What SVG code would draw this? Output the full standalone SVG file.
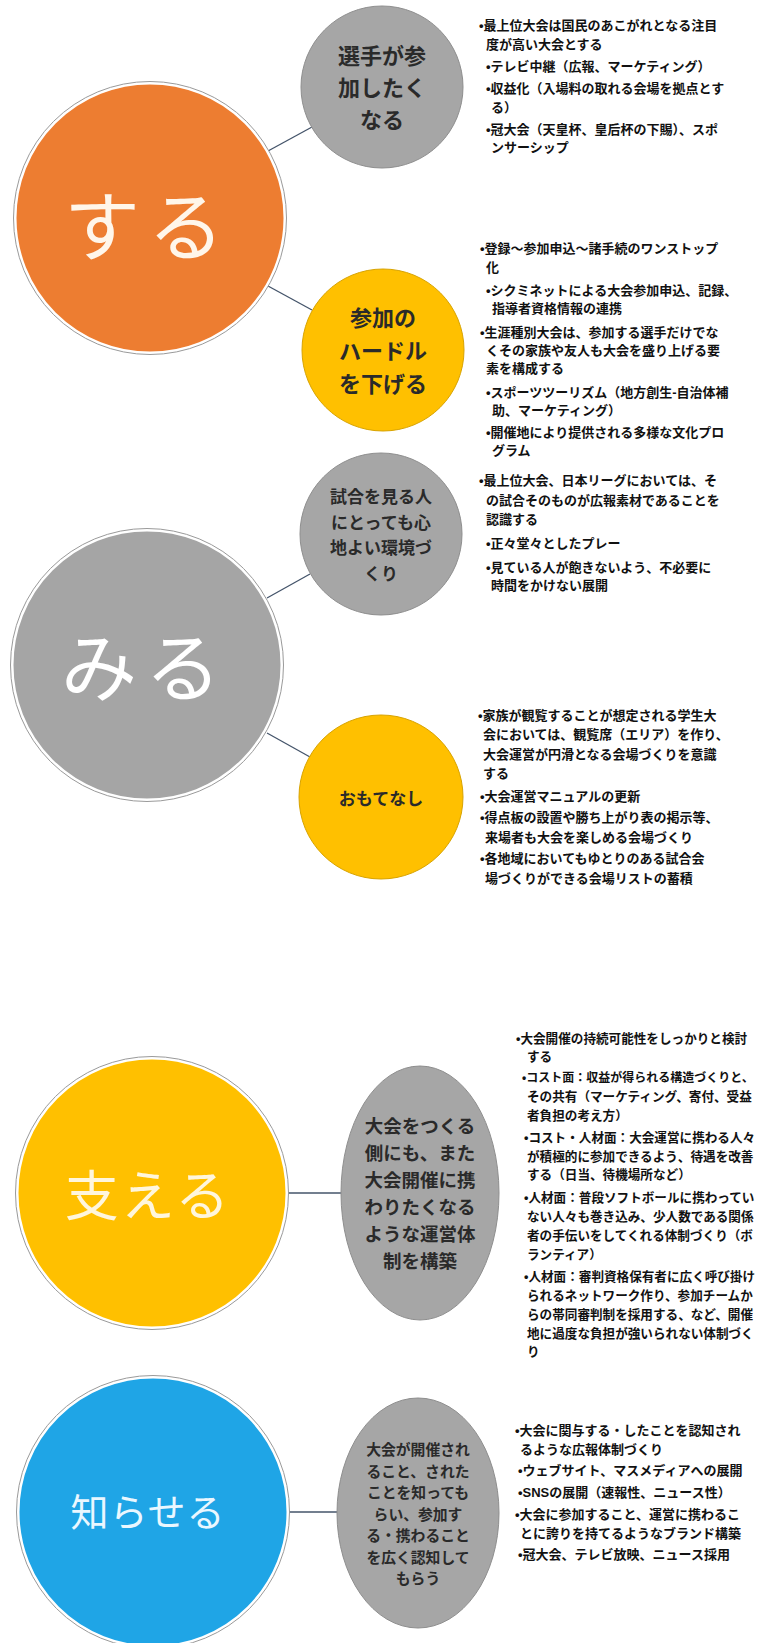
<svg xmlns="http://www.w3.org/2000/svg" width="759" height="1643" viewBox="0 0 759 1643">
<style>
.t{font-family:"Liberation Sans","Noto Sans CJK JP",sans-serif;font-weight:700;font-size:13px;fill:#111;dominant-baseline:central}
.t3{font-size:12.6px}
.t4{font-size:12px}
.lbl{font-family:"Noto Sans CJK JP",sans-serif;font-weight:700;fill:#2a2a2a;text-anchor:middle;dominant-baseline:central}
.big{font-family:"Noto Sans CJK JP",sans-serif;font-weight:400;text-anchor:middle;dominant-baseline:central}
.conn{stroke:#44546A;stroke-width:1.3;fill:none}
.ring{fill:none;stroke:#9a9a9a;stroke-width:1}
.bigc{stroke:#ffffff;stroke-width:3}
.gs{fill:#A6A6A6;stroke:#8e8e8e;stroke-width:1}
.ys{fill:#FFC000;stroke:#d8a300;stroke-width:1}
</style>
<rect width="759" height="1643" fill="#ffffff"/>

<g id="connectors">
<line class="conn" x1="268" y1="151" x2="312" y2="127"/>
<line class="conn" x1="268" y1="286" x2="312" y2="310"/>
<line class="conn" x1="267" y1="598" x2="310" y2="574"/>
<line class="conn" x1="267" y1="733" x2="310" y2="757"/>
<line class="conn" x1="287" y1="1193" x2="341" y2="1193"/>
<line class="conn" x1="288" y1="1512" x2="337" y2="1512"/>
</g>

<g id="node-suru">
<circle cx="150" cy="218" r="135" fill="#ED7D31" class="bigc"/>
<circle cx="150" cy="218" r="136.5" class="ring"/>
<text class="big" x="148" y="222" font-size="76" letter-spacing="8" fill="#fff6ea">する</text>
</g>
<g id="node-senshu">
<circle cx="382" cy="87" r="81" class="gs"/>
<text class="lbl" font-size="22"><tspan x="382" y="54">選手が参</tspan><tspan x="382" y="86">加したく</tspan><tspan x="382" y="118">なる</tspan></text>
</g>
<g id="node-hurdle">
<circle cx="383" cy="350" r="81" class="ys"/>
<text class="lbl" font-size="22"><tspan x="383" y="316">参加の</tspan><tspan x="383" y="349">ハードル</tspan><tspan x="383" y="382">を下げる</tspan></text>
</g>
<g id="text-senshu">
<text class="t" x="479" y="25">•最上位大会は国民のあこがれとなる注目</text>
<text class="t" x="486" y="44">度が高い大会とする</text>
<text class="t" x="486" y="66">•テレビ中継（広報、マーケティング）</text>
<text class="t" x="486" y="88">•収益化（入場料の取れる会場を拠点とす</text>
<text class="t" x="491" y="107">る）</text>
<text class="t" x="486" y="129">•冠大会（天皇杯、皇后杯の下賜）、スポ</text>
<text class="t" x="491" y="147">ンサーシップ</text>
</g>
<g id="text-hurdle">
<text class="t" x="480" y="248">•登録～参加申込～諸手続のワンストップ</text>
<text class="t" x="486" y="267">化</text>
<text class="t" x="486" y="290">•シクミネットによる大会参加申込、記録、</text>
<text class="t" x="492" y="308">指導者資格情報の連携</text>
<text class="t" x="480" y="332">•生涯種別大会は、参加する選手だけでな</text>
<text class="t" x="486" y="350">くその家族や友人も大会を盛り上げる要</text>
<text class="t" x="486" y="368">素を構成する</text>
<text class="t" x="486" y="392">•スポーツツーリズム（地方創生-自治体補</text>
<text class="t" x="492" y="410">助、マーケティング）</text>
<text class="t" x="486" y="432">•開催地により提供される多様な文化プロ</text>
<text class="t" x="492" y="450">グラム</text>
</g>

<g id="node-miru">
<circle cx="147" cy="665" r="135" fill="#A5A5A5" class="bigc"/>
<circle cx="147" cy="665" r="136.5" class="ring"/>
<text class="big" x="145" y="663" font-size="76" letter-spacing="8" fill="#ffffff">みる</text>
</g>
<g id="node-kankyo">
<circle cx="381" cy="534" r="81" class="gs"/>
<text class="lbl" font-size="17"><tspan x="381" y="495">試合を見る人</tspan><tspan x="381" y="521">にとっても心</tspan><tspan x="381" y="546">地よい環境づ</tspan><tspan x="381" y="572">くり</tspan></text>
</g>
<g id="node-omotenashi">
<circle cx="381" cy="797" r="82" class="ys"/>
<text class="lbl" font-size="17" x="381" y="797">おもてなし</text>
</g>
<g id="text-kankyo">
<text class="t" x="479" y="480">•最上位大会、日本リーグにおいては、そ</text>
<text class="t" x="486" y="500">の試合そのものが広報素材であることを</text>
<text class="t" x="486" y="519">認識する</text>
<text class="t" x="486" y="543">•正々堂々としたプレー</text>
<text class="t" x="486" y="567">•見ている人が飽きないよう、不必要に</text>
<text class="t" x="491" y="585">時間をかけない展開</text>
</g>
<g id="text-omotenashi">
<text class="t" x="478" y="715">•家族が観覧することが想定される学生大</text>
<text class="t" x="483" y="734">会においては、観覧席（エリア）を作り、</text>
<text class="t" x="483" y="754">大会運営が円滑となる会場づくりを意識</text>
<text class="t" x="483" y="773">する</text>
<text class="t" x="480" y="796">•大会運営マニュアルの更新</text>
<text class="t" x="480" y="817">•得点板の設置や勝ち上がり表の掲示等、</text>
<text class="t" x="485" y="837">来場者も大会を楽しめる会場づくり</text>
<text class="t" x="480" y="858">•各地域においてもゆとりのある試合会</text>
<text class="t" x="485" y="878">場づくりができる会場リストの蓄積</text>
</g>

<g id="node-sasaeru">
<circle cx="152" cy="1193" r="135" fill="#FFC000" class="bigc"/>
<circle cx="152" cy="1193" r="136.5" class="ring"/>
<text class="big" x="148" y="1192" font-size="54" letter-spacing="2" fill="#fff6dc">支える</text>
</g>
<g id="node-unei">
<ellipse cx="420" cy="1193" rx="79" ry="127" class="gs"/>
<text class="lbl" font-size="18.5"><tspan x="420" y="1125">大会をつくる</tspan><tspan x="420" y="1152">側にも、また</tspan><tspan x="420" y="1179">大会開催に携</tspan><tspan x="420" y="1206">わりたくなる</tspan><tspan x="420" y="1233">ような運営体</tspan><tspan x="420" y="1260">制を構築</tspan></text>
</g>
<g id="text-unei">
<text class="t t3" x="516" y="1039">•大会開催の持続可能性をしっかりと検討</text>
<text class="t t3" x="527" y="1057">する</text>
<text class="t t4" x="522" y="1078">•コスト面：収益が得られる構造づくりと、</text>
<text class="t t3" x="527" y="1097">その共有（マーケティング、寄付、受益</text>
<text class="t t3" x="527" y="1116">者負担の考え方）</text>
<text class="t t3" x="524" y="1138">•コスト・人材面：大会運営に携わる人々</text>
<text class="t t3" x="527" y="1157">が積極的に参加できるよう、待遇を改善</text>
<text class="t t3" x="527" y="1175">する（日当、待機場所など）</text>
<text class="t t3" x="524" y="1198">•人材面：普段ソフトボールに携わってい</text>
<text class="t t3" x="527" y="1217">ない人々も巻き込み、少人数である関係</text>
<text class="t t3" x="527" y="1236">者の手伝いをしてくれる体制づくり（ボ</text>
<text class="t t3" x="527" y="1255">ランティア）</text>
<text class="t t3" x="524" y="1277">•人材面：審判資格保有者に広く呼び掛け</text>
<text class="t t3" x="527" y="1296">られるネットワーク作り、参加チームか</text>
<text class="t t3" x="527" y="1315">らの帯同審判制を採用する、など、開催</text>
<text class="t t3" x="527" y="1334">地に過度な負担が強いられない体制づく</text>
<text class="t t3" x="527" y="1352">り</text>
</g>

<g id="node-shiraseru">
<circle cx="153" cy="1512" r="135" fill="#1FA5E6" class="bigc"/>
<circle cx="153" cy="1512" r="136.5" class="ring"/>
<text class="big" x="148" y="1509" font-size="38" letter-spacing="1" fill="#eaf7ff">知らせる</text>
</g>
<g id="node-koho">
<ellipse cx="418" cy="1513" rx="81" ry="115" class="gs"/>
<text class="lbl" font-size="14.8"><tspan x="418" y="1448">大会が開催され</tspan><tspan x="418" y="1469.5">ること、された</tspan><tspan x="418" y="1491">ことを知っても</tspan><tspan x="418" y="1512.5">らい、参加す</tspan><tspan x="418" y="1534">る・携わること</tspan><tspan x="418" y="1555.5">を広く認知して</tspan><tspan x="418" y="1577">もらう</tspan></text>
</g>
<g id="text-koho">
<text class="t" x="515" y="1430">•大会に関与する・したことを認知され</text>
<text class="t" x="520" y="1449">るような広報体制づくり</text>
<text class="t" x="518" y="1470">•ウェブサイト、マスメディアへの展開</text>
<text class="t" x="518" y="1492">•SNSの展開（速報性、ニュース性）</text>
<text class="t" x="515" y="1514">•大会に参加すること、運営に携わるこ</text>
<text class="t" x="520" y="1533">とに誇りを持てるようなブランド構築</text>
<text class="t" x="518" y="1554">•冠大会、テレビ放映、ニュース採用</text>
</g>
</svg>
